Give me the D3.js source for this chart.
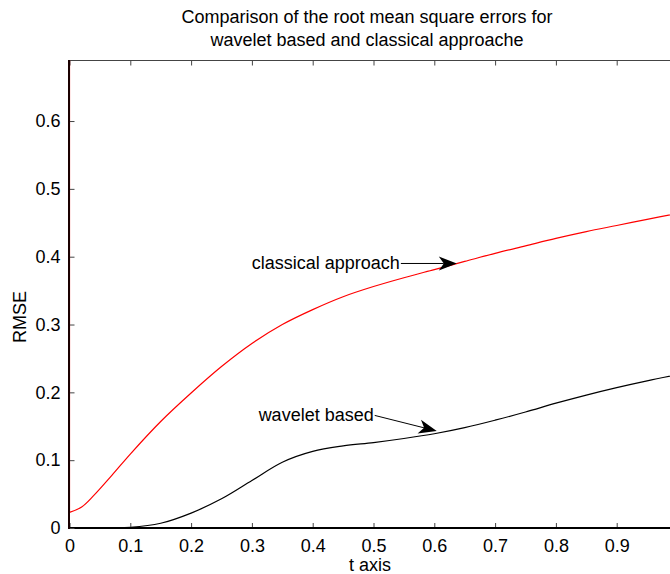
<!DOCTYPE html>
<html><head><meta charset="utf-8">
<script src="https://cdn.jsdelivr.net/npm/d3@7"></script>
<style>body{margin:0;background:#fff}svg{display:block}text{font-family:"Liberation Sans",Arial,Helvetica,sans-serif;fill:#000}</style>
</head><body><svg id="c" width="670" height="574"></svg>
<script>
const tValues = [0, 0.02, 0.04, 0.07, 0.1, 0.15, 0.2, 0.25, 0.3, 0.35, 0.4, 0.45, 0.5, 0.55, 0.6, 0.65, 0.7, 0.75, 0.8, 0.85, 0.9, 0.95, 1.0];
const classical = [0.023, 0.031, 0.048, 0.078, 0.109, 0.157, 0.199, 0.238, 0.272, 0.300, 0.322, 0.341, 0.356, 0.369, 0.381, 0.393, 0.405, 0.416, 0.427, 0.437, 0.446, 0.455, 0.464];
const classicalStart = 0.69;
const wavelet = [0.000, 0.0001, 0.0002, 0.0004, 0.001, 0.007, 0.022, 0.043, 0.070, 0.097, 0.113, 0.121, 0.126, 0.132, 0.139, 0.148, 0.159, 0.171, 0.184, 0.196, 0.207, 0.217, 0.226];
const xTicks = [0, 0.1, 0.2, 0.3, 0.4, 0.5, 0.6, 0.7, 0.8, 0.9];
const yTicks = [0, 0.1, 0.2, 0.3, 0.4, 0.5, 0.6];
const titleLines = ["Comparison of the root mean square errors for", "wavelet based and classical approache"];
const annotations = [
  {label: "classical approach", tail: [0.545, 0.390], tip: [0.637, 0.390]},
  {label: "wavelet based", tail: [0.502, 0.166], tip: [0.604, 0.143]}
];

const svg = d3.select("#c");
const L = 69.5, R = 677.5, T = 60, B = 528;
const x = d3.scaleLinear().domain([0, 1]).range([L, R]);
const y = d3.scaleLinear().domain([0, 0.69]).range([B, T]);

svg.append("defs").append("clipPath").attr("id", "clip")
  .append("rect").attr("x", L - 1).attr("y", T).attr("width", R - L + 1).attr("height", B - T);

// top border
svg.append("line").attr("x1", L).attr("x2", 670).attr("y1", T + 0.5).attr("y2", T + 0.5)
  .attr("stroke", "#444").attr("stroke-width", 1.2);

// top ticks
const topAxis = d3.axisTop(x).tickValues(xTicks).tickSize(-5).tickFormat("");
svg.append("g").attr("transform", `translate(0,${T + 0.5})`).call(topAxis)
  .call(g => g.select(".domain").remove())
  .call(g => g.selectAll(".tick line").attr("stroke", "#444"));

const plot = svg.append("g").attr("clip-path", "url(#clip)");
const line = d3.line().x((d, i) => x(tValues[i])).y(d => y(d)).curve(d3.curveCatmullRom.alpha(0.5));
plot.append("path").datum([classicalStart, classical[0]])
  .attr("d", d => d3.line()([[x(0), y(d[0])], [x(0), y(d[1])]]))
  .attr("fill", "none").attr("stroke", "#ff0000").attr("stroke-width", 1.2);
plot.append("path").datum(classical).attr("d", line)
  .attr("fill", "none").attr("stroke", "#ff0000").attr("stroke-width", 1.2);
plot.append("path").datum(wavelet).attr("d", line)
  .attr("fill", "none").attr("stroke", "#000").attr("stroke-width", 1.2);

// bottom axis
const xAxis = d3.axisBottom(x).tickValues(xTicks).tickSize(-5).tickPadding(11)
  .tickFormat(d => d === 0 ? "0" : d3.format(".1f")(d));
const gx = svg.append("g").attr("transform", `translate(0,${B})`).call(xAxis);
gx.select(".domain").remove();
gx.selectAll(".tick line").attr("stroke", "#444");
gx.selectAll(".tick text").attr("font-size", 18).attr("font-family", "Liberation Sans, Arial, sans-serif");
svg.append("line").attr("x1", L - 1).attr("x2", 670).attr("y1", B).attr("y2", B).attr("stroke", "#000").attr("stroke-width", 2);

// left axis
const yAxis = d3.axisLeft(y).tickValues(yTicks).tickSize(-5).tickPadding(9)
  .tickFormat(d => d === 0 ? "0" : d3.format(".1f")(d));
const gy = svg.append("g").attr("transform", `translate(${L},0)`).call(yAxis);
gy.select(".domain").remove();
gy.selectAll(".tick line").attr("stroke", "#444");
gy.selectAll(".tick text").attr("font-size", 18).attr("font-family", "Liberation Sans, Arial, sans-serif");
svg.append("line").attr("x1", L - 0.5).attr("x2", L - 0.5).attr("y1", T).attr("y2", B + 1).attr("stroke", "#1a0000").attr("stroke-width", 2);

// title
svg.append("g").selectAll("text").data(titleLines).join("text")
  .attr("x", 367).attr("y", (d, i) => 23 + i * 23).attr("text-anchor", "middle")
  .attr("font-size", 18).text(d => d);

// axis labels
svg.append("text").attr("x", 370).attr("y", 571).attr("text-anchor", "middle").attr("font-size", 18).text("t axis");
svg.append("text").attr("transform", "translate(26,317) rotate(-90)").attr("text-anchor", "middle").attr("font-size", 18).text("RMSE");

// annotations
const ann = svg.append("g");
annotations.forEach(a => {
  const x0 = x(a.tail[0]), y0 = y(a.tail[1]), x1 = x(a.tip[0]), y1 = y(a.tip[1]);
  ann.append("text").attr("x", x0 - 1).attr("y", y0 + 6).attr("text-anchor", "end").attr("font-size", 18).text(a.label);
  const ang = Math.atan2(y1 - y0, x1 - x0);
  const len = 18, hw = 7, notch = 5;
  const ux = Math.cos(ang), uy = Math.sin(ang), px = -uy, py = ux;
  const bx = x1 - ux * len, by = y1 - uy * len;
  ann.append("line").attr("x1", x0).attr("y1", y0).attr("x2", bx + ux * notch).attr("y2", by + uy * notch)
    .attr("stroke", "#000").attr("stroke-width", 1);
  const pts = [[x1, y1], [bx + px * hw, by + py * hw], [bx + ux * notch, by + uy * notch], [bx - px * hw, by - py * hw]];
  ann.append("path").attr("d", "M" + pts.map(p => p.join(",")).join("L") + "Z").attr("fill", "#000");
});
</script></body></html>
